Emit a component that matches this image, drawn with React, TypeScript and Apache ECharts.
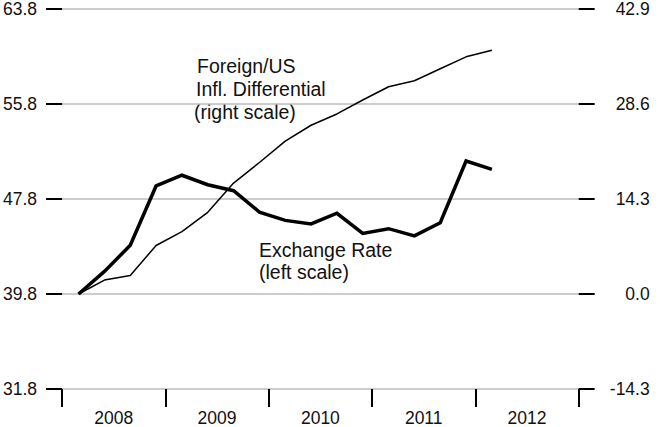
import React, { useEffect, useRef } from "react";
import * as echarts from "echarts";

const years = ["2008", "2009", "2010", "2011", "2012"];
const periods = [
  2008.16, 2008.41, 2008.66, 2008.91,
  2009.16, 2009.41, 2009.66, 2009.91,
  2010.16, 2010.41, 2010.66, 2010.91,
  2011.16, 2011.41, 2011.66, 2011.91,
  2012.16,
];
const exchangeRate = [
  39.8, 41.7, 43.9, 48.9, 49.8, 49.0, 48.5, 46.7, 46.0, 45.7, 46.6, 44.9, 45.3,
  44.7, 45.8, 51.0, 50.3,
];
const inflDiff = [
  0.0, 2.1, 2.8, 7.3, 9.4, 12.3, 16.7, 19.8, 23.0, 25.4, 27.1, 29.2, 31.2, 32.1,
  33.9, 35.7, 36.7,
];
const leftMin = 31.8;
const leftMax = 63.8;
const leftStep = 8;
const rightMin = -14.3;
const rightMax = 42.9;
const rightStep = 14.3;

const FONT = "'Liberation Sans', Arial, Helvetica, sans-serif";

export default function App() {
  const ref = useRef<HTMLDivElement>(null);
  useEffect(() => {
    if (!ref.current) return;
    const chart = echarts.init(ref.current, undefined, { renderer: "svg" });
    const tickStyle = { color: "#000", width: 2 };
    const annot = (text: string, x: number, y: number) => ({
      type: "text",
      x,
      y,
      style: {
        text,
        fill: "#111",
        font: `19.5px ${FONT}`,
        verticalAlign: "middle",
        align: "left",
      },
    });
    chart.setOption({
      animation: false,
      backgroundColor: "#fff",
      grid: { left: 60.5, right: 91.3, top: 5, bottom: 38, containLabel: false },
      xAxis: [
        {
          type: "category",
          data: years,
          boundaryGap: true,
          axisLine: { show: false, onZero: false },
          axisTick: { show: true, interval: 0, length: 18, lineStyle: tickStyle },
          axisLabel: {
            interval: 0,
            margin: 20,
            fontSize: 17.5,
            color: "#111",
            fontFamily: FONT,
          },
          splitLine: { show: false },
        },
        {
          type: "value",
          min: 2008,
          max: 2013,
          show: false,
        },
      ],
      yAxis: [
        {
          type: "value",
          position: "left",
          min: leftMin,
          max: leftMax,
          interval: leftStep,
          axisLine: { show: false },
          axisTick: { show: true, length: 16, lineStyle: tickStyle },
          axisLabel: {
            margin: 25,
            fontSize: 17.5,
            color: "#111",
            fontFamily: FONT,
            formatter: (v: number) => v.toFixed(1),
          },
          splitLine: { show: true, lineStyle: { color: "#bbbbbb", width: 1.5 } },
        },
        {
          type: "value",
          position: "right",
          min: rightMin,
          max: rightMax,
          interval: rightStep,
          axisLine: { show: false },
          axisTick: { show: true, length: 16, lineStyle: tickStyle },
          axisLabel: {
            margin: 71,
            align: "right",
            fontSize: 17.5,
            color: "#111",
            fontFamily: FONT,
            formatter: (v: number) => v.toFixed(1),
          },
          splitLine: { show: false },
        },
      ],
      series: [
        {
          type: "line",
          name: "Exchange Rate",
          xAxisIndex: 1,
          yAxisIndex: 0,
          data: periods.map((p, i) => [p, exchangeRate[i]]),
          showSymbol: false,
          symbol: "none",
          lineStyle: { color: "#000", width: 3.5, join: "miter" },
          z: 3,
        },
        {
          type: "line",
          name: "Foreign/US Infl. Differential",
          xAxisIndex: 1,
          yAxisIndex: 1,
          data: periods.map((p, i) => [p, inflDiff[i]]),
          showSymbol: false,
          symbol: "none",
          lineStyle: { color: "#000", width: 1.5 },
          z: 2,
        },
      ],
      graphic: [
        annot("Foreign/US", 197, 66),
        annot("Infl. Differential", 196, 89),
        annot("(right scale)", 194, 112),
        annot("Exchange Rate", 259, 249.5),
        annot("(left scale)", 259, 272),
      ],
    });
    return () => chart.dispose();
  }, []);
  return (
    <div
      ref={ref}
      style={{ position: "fixed", left: 0, top: 0, width: 670, height: 427 }}
    />
  );
}
